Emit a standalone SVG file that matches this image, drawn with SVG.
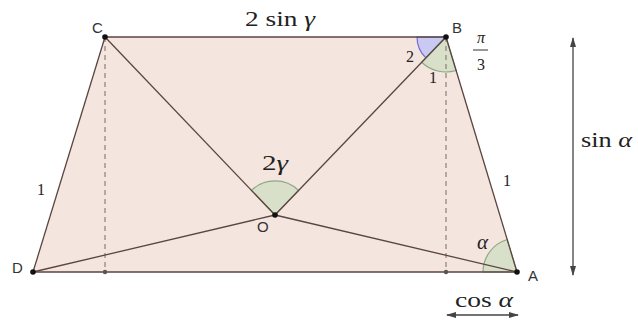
<svg xmlns="http://www.w3.org/2000/svg" width="638" height="320" viewBox="0 0 638 320">
<defs>
<style>
.edge{stroke:#5a4540;stroke-width:1.3;fill:none}
.dash{stroke:#7a6a66;stroke-width:1;stroke-dasharray:5,4;fill:none}
.sec{fill:#d3dfc6;stroke:#8ca888;stroke-width:1.2;fill-opacity:0.85}
.blue{fill:#c9c9f2;stroke:#6e6ed6;stroke-width:1.2}
.pt{fill:#111}
.sm{fill:#555}
.lbl{font-family:"Liberation Sans",Arial,sans-serif;font-size:15px;fill:#333}
.math{font-family:"Liberation Serif","Times New Roman",serif;fill:#222}
.arr{stroke:#444;stroke-width:1.3;fill:none}
</style>
<marker id="ah" viewBox="0 0 10 10" refX="9" refY="5" markerWidth="8" markerHeight="8" orient="auto-start-reverse">
<path d="M0,2 L10,5 L0,8 z" fill="#444"/>
</marker>
</defs>
<rect width="638" height="320" fill="#fff"/>
<polygon points="33,272 105,37 446,37 517,272" fill="#f5e5df" stroke="none"/>
<g id="angles">
<path class="blue" d="M446,37 L417,37 A29,29 0 0 0 425.9,57.9 Z"/>
<path class="sec" d="M446,37 L421.7,62.2 A35,35 0 0 0 456.1,70.5 Z"/>
<path class="sec" d="M275,215 L251.5,190.4 A34,34 0 0 1 298.6,190.5 Z"/>
<path class="sec" d="M517,272 L483,272 A34,34 0 0 1 507.2,239.5 Z"/>
</g>
<g id="connectors">
<line class="dash" x1="105" y1="37" x2="105" y2="272"/>
<line class="dash" x1="446" y1="37" x2="446" y2="272"/>
<line class="edge" x1="33" y1="272" x2="105" y2="37"/>
<line class="edge" x1="105" y1="37" x2="446" y2="37"/>
<line class="edge" x1="446" y1="37" x2="517" y2="272"/>
<line class="edge" x1="33" y1="272" x2="517" y2="272"/>
<line class="edge" x1="105" y1="37" x2="275" y2="215"/>
<line class="edge" x1="275" y1="215" x2="446" y2="37"/>
<line class="edge" x1="33" y1="272" x2="275" y2="215"/>
<line class="edge" x1="275" y1="215" x2="517" y2="272"/>
<line class="arr" x1="573" y1="38" x2="573" y2="275" marker-start="url(#ah)" marker-end="url(#ah)"/>
<line class="arr" x1="447" y1="315" x2="518" y2="315" marker-start="url(#ah)" marker-end="url(#ah)"/>
</g>
<g id="C"><circle class="pt" cx="105" cy="37" r="2.8"/><text class="lbl" x="92" y="33">C</text></g>
<g id="B"><circle class="pt" cx="446" cy="37" r="2.8"/><text class="lbl" x="452" y="33">B</text></g>
<g id="A"><circle class="pt" cx="517" cy="272" r="2.8"/><text class="lbl" x="528" y="281">A</text></g>
<g id="D"><circle class="pt" cx="33" cy="272" r="2.8"/><text class="lbl" x="12" y="273">D</text></g>
<g id="O"><circle class="pt" cx="275" cy="215" r="2.8"/><text class="lbl" x="257" y="232">O</text></g>
<g id="feet"><circle class="sm" cx="105" cy="272" r="2.2"/><circle class="sm" cx="446" cy="272" r="2.2"/></g>
<g id="labels">
<text class="math" x="245" y="26" font-size="22" textLength="70" lengthAdjust="spacingAndGlyphs">2 sin <tspan font-style="italic">γ</tspan></text>
<text class="math" x="406" y="62" font-size="16">2</text>
<text class="math" x="429" y="83" font-size="16">1</text>
<text class="math" x="481" y="43" font-size="16" text-anchor="middle" font-style="italic">π</text>
<line x1="473" y1="50" x2="488" y2="50" stroke="#333" stroke-width="1"/>
<text class="math" x="481" y="70" font-size="16" text-anchor="middle">3</text>
<text class="math" x="262" y="170" font-size="21" textLength="26" lengthAdjust="spacingAndGlyphs">2<tspan font-style="italic">γ</tspan></text>
<text class="math" x="37" y="195" font-size="16">1</text>
<text class="math" x="503" y="186" font-size="16">1</text>
<text class="math" x="477" y="249" font-size="21" font-style="italic">α</text>
<text class="math" x="581" y="147" font-size="22" textLength="51" lengthAdjust="spacingAndGlyphs">sin <tspan font-style="italic">α</tspan></text>
<text class="math" x="455" y="307" font-size="22" textLength="58" lengthAdjust="spacingAndGlyphs">cos <tspan font-style="italic">α</tspan></text>
</g>
</svg>
